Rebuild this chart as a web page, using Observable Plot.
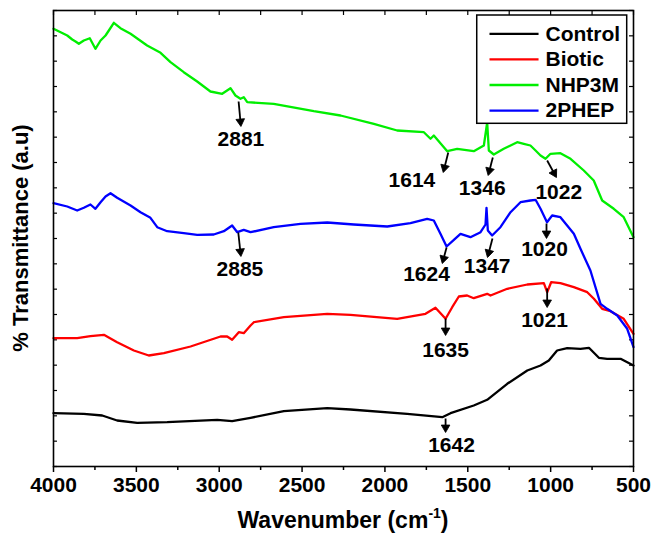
<!DOCTYPE html>
<html>
<head>
<meta charset="utf-8">
<script src="https://cdn.jsdelivr.net/npm/d3@7"></script>
<script src="https://cdn.jsdelivr.net/npm/@observablehq/plot@0.6"></script>
<style>
  body { margin: 0; background: #fff; }
  #wrap { position: relative; width: 652px; height: 537px; font-family: "Liberation Sans", Arial, sans-serif; font-weight: bold; color: #000; }
  #xt { position: absolute; left: 53px; width: 580px; top: 507px; text-align: center; font-size: 23px; line-height: 26px; }
  #xt sup { font-size: 14px; vertical-align: 10px; line-height: 0; }
  #yt { position: absolute; left: -139px; top: 225px; width: 320px; height: 26px; line-height: 26px; text-align: center; font-size: 22px; transform: rotate(-90deg); }
</style>
</head>
<body>
<div id="wrap">
  <div id="chart"></div>
  <div id="xt">Wavenumber (cm<sup>-1</sup>)</div>
  <div id="yt">% Transmittance (a.u)</div>
</div>
<script>
// ---- Data (wavenumber in cm^-1, transmittance in arbitrary units, curves offset as in the figure) ----
const seriesNames = ["Control", "Biotic", "NHP3M", "2PHEP"];
const seriesColors = ["#000000", "#ff0000", "#00ee00", "#0000ff"];

const controlWn = [4000, 3817, 3706, 3616, 3495, 3314, 3012, 2922, 2811, 2610, 2348, 2208, 1866, 1654, 1604, 1464, 1383, 1262, 1141, 1061, 1011, 961, 900, 820, 769, 709, 659, 578, 500];
const controlT  = [53.3, 52.7, 51, 46, 43.7, 44.3, 46.7, 45.3, 48.7, 55.3, 58.3, 57, 52.7, 49.3, 53.3, 61, 66.7, 82.7, 96, 101, 106, 116, 118.3, 117.7, 118.7, 108.7, 107.7, 107.7, 101];

const bioticWn = [4000, 3857, 3777, 3696, 3616, 3515, 3425, 3334, 3173, 2992, 2952, 2922, 2882, 2852, 2811, 2791, 2610, 2348, 2208, 1926, 1755, 1695, 1634, 1594, 1554, 1504, 1464, 1383, 1363, 1262, 1141, 1041, 1021, 997, 941, 860, 779, 739, 689, 639, 559, 500];
const bioticT  = [128.3, 128.3, 130.3, 131.7, 124.3, 116, 111, 113.3, 120, 130, 130, 126.7, 134.3, 133.3, 141, 144.3, 149.3, 152.7, 151.7, 147.7, 152.7, 158.7, 147.7, 159.3, 170, 171, 168.3, 172.7, 171, 177.7, 182, 183.3, 174.3, 184.3, 183.3, 179.3, 174.3, 167.7, 157.7, 155.3, 147.7, 132.7];

const nhp3mWn = [4000, 3917, 3887, 3867, 3847, 3817, 3781, 3747, 3716, 3686, 3666, 3636, 3596, 3535, 3435, 3354, 3294, 3214, 3133, 3053, 2982, 2932, 2902, 2872, 2852, 2831, 2671, 2429, 2268, 2067, 1926, 1765, 1725, 1705, 1624, 1564, 1464, 1403, 1383, 1373, 1343, 1283, 1202, 1162, 1122, 1091, 1061, 1031, 1001, 941, 880, 800, 740, 689, 619, 559, 500];
const nhp3mT  = [437.7, 431, 427, 425, 422.7, 426, 428.3, 417.7, 426, 431, 436, 443.7, 438.3, 432.7, 421, 413.7, 404.3, 394.3, 385, 375, 372.7, 378.3, 371, 367.7, 369.3, 364.3, 362.7, 355.3, 351, 342.7, 336, 334.3, 327.7, 331, 315.3, 317.7, 315.3, 321, 344, 316, 312, 317.7, 324.3, 322.7, 321, 316, 311, 307.7, 312.7, 313.3, 307.7, 296, 286, 266, 257.7, 249.3, 229.3];

const phepWn = [4000, 3917, 3857, 3817, 3777, 3747, 3716, 3686, 3656, 3616, 3535, 3475, 3415, 3374, 3314, 3214, 3133, 3033, 2972, 2922, 2891, 2852, 2811, 2671, 2510, 2348, 2188, 1986, 1846, 1745, 1705, 1665, 1628, 1584, 1544, 1484, 1423, 1393, 1387, 1379, 1353, 1303, 1242, 1182, 1122, 1091, 1061, 1022, 991, 941, 860, 820, 760, 699, 659, 598, 538, 500];
const phepT  = [263.3, 260, 256, 258.7, 262, 257.7, 264.3, 270, 273.3, 268.7, 261, 254.3, 248.7, 239.3, 235.3, 233.3, 231.7, 232, 235.3, 241, 234.3, 236.7, 234.3, 239.3, 242.7, 244, 242, 240, 243.3, 247.7, 246, 232.7, 220, 226.7, 232.7, 229.3, 234.3, 242, 258.7, 236, 231, 239.3, 254.3, 264.3, 266, 266.7, 257.7, 244.3, 251, 249.3, 232.7, 217.7, 196, 162.7, 157.7, 151, 137.7, 119.3];

// Peak annotations: label, arrow start (wn, T), arrow tip (wn, T), label position (wn, T)
const annLabel = ["2881", "2885", "1614", "1346", "1022", "1624", "1347", "1020", "1635", "1021", "1642"];
const annX1 = [2883, 2885, 1618, 1349, 1021, 1628, 1351, 1025, 1634, 1021, 1634];
const annY1 = [365, 234, 314, 309, 306, 219, 228, 243, 148, 178, 48];
const annX2 = [2869, 2869, 1648, 1377, 965, 1654, 1381, 1025, 1634, 1021, 1634];
const annY2 = [340, 210, 294, 291, 289, 203, 209, 228, 131, 159, 34];
const annTx = [2869, 2875, 1837, 1413, 951, 1749, 1383, 1037, 1634, 1037, 1598];
const annTy = [327, 197, 286, 278, 274.3, 192, 200, 217.5, 116, 146, 21];

const xMajor = [4000, 3500, 3000, 2500, 2000, 1500, 1000, 500];
const xMinor = [3750, 3250, 2750, 2250, 1750, 1250, 750];

// ---- Layout ----
const W = 652, H = 537, mL = 53, mR = 19, mT = 10, mB = 71;
const xDomain = [4000, 500], yDomain = [0, 456];
const kx = (xDomain[0] - xDomain[1]) / (W - mL - mR);   // wavenumber per pixel
const ky = (yDomain[1] - yDomain[0]) / (H - mT - mB);   // units per pixel

// ---- Build tables ----
const wnArrays = [controlWn, bioticWn, nhp3mWn, phepWn];
const tArrays = [controlT, bioticT, nhp3mT, phepT];
const rows = [];
seriesNames.forEach((name, i) => {
  wnArrays[i].forEach((wn, j) => rows.push({series: name, wn, t: tArrays[i][j]}));
});

// arrows with filled triangular heads
const headR = 3.2;
const tipDist = 2 * Math.sqrt(headR * headR * Math.PI / (3 * Math.sqrt(3)));
const annots = annLabel.map((label, i) => {
  const dpx = -(annX2[i] - annX1[i]) / kx;
  const dpy = -(annY2[i] - annY1[i]) / ky;
  const len = Math.hypot(dpx, dpy);
  const ux = dpx / len, uy = dpy / len;
  const rot = Math.atan2(ux, -uy) * 180 / Math.PI;
  const back = (d) => ({x: annX2[i] + ux * d * kx, y: annY2[i] + uy * d * ky});
  const c = back(tipDist);
  const e = back(tipDist * 1.2);
  return {label, x1: annX1[i], y1: annY1[i], xe: e.x, ye: e.y, hx: c.x, hy: c.y, rot, tx: annTx[i], ty: annTy[i]};
});

const yTicks = d3.range(0, 19).map(i => i * 456 / 18);

// legend placement (in scale units)
const lgX1 = 1443, lgX2 = 538, lgY1 = 451, lgY2 = 342.7;
const legendRows = seriesNames.map((name, i) => ({name, color: seriesColors[i], y: 432.7 - i * 25.6}));

const font = "'Liberation Sans', Arial, sans-serif";

const chart = Plot.plot({
  width: W,
  height: H,
  marginLeft: mL,
  marginRight: mR,
  marginTop: mT,
  marginBottom: mB,
  x: {domain: xDomain},
  y: {domain: yDomain},
  color: {domain: seriesNames, range: seriesColors},
  style: {fontFamily: font, fontWeight: "bold", fontSize: "21px", color: "black", background: "white", overflow: "visible"},
  marks: [
    Plot.axisX({anchor: "bottom", ticks: xMajor, tickSize: 6, tickPadding: 5, tickFormat: d => String(d), label: null, fontSize: 21, fontWeight: "bold", strokeWidth: 1.5}),
    Plot.axisX({anchor: "bottom", ticks: xMinor, tickSize: 4, tickFormat: () => "", label: null, strokeWidth: 1.5}),
    Plot.axisY({anchor: "left", ticks: [], label: null}),
    Plot.ruleX(xMajor.concat(xMinor), {y1: 456, y2: 451, stroke: "black", strokeWidth: 1.2}),
    Plot.ruleY(yTicks, {x1: 4000, x2: 3976, stroke: "black", strokeWidth: 1.2}),
    Plot.ruleY(yTicks, {x1: 500, x2: 524, stroke: "black", strokeWidth: 1.2}),
    Plot.line(rows, {x: "wn", y: "t", z: "series", stroke: "series", strokeWidth: 2.3, curve: "linear"}),
    Plot.link(annots, {x1: "x1", y1: "y1", x2: "xe", y2: "ye", stroke: "black", strokeWidth: 1.8}),
    Plot.dot(annots, {x: "hx", y: "hy", symbol: "triangle", r: headR, rotate: "rot", fill: "black", stroke: "black", strokeWidth: 0.8}),
    Plot.text(annots, {x: "tx", y: "ty", text: "label", fontSize: 21, fontWeight: "bold", lineAnchor: "middle", textAnchor: "middle", fill: "black"}),
    Plot.rect([{}], {x1: lgX1, x2: lgX2, y1: lgY1, y2: lgY2, fill: "white", stroke: "black", strokeWidth: 1.5}),
    Plot.link(legendRows, {x1: 1369, x2: 1073, y1: "y", y2: "y", stroke: "color", strokeWidth: 2.3}),
    Plot.text(legendRows, {x: 1031, y: "y", text: "name", textAnchor: "start", lineAnchor: "middle", fontSize: 21, fontWeight: "bold", fill: "black"}),
    Plot.frame({stroke: "black", strokeWidth: 1.6})
  ]
});
document.getElementById("chart").appendChild(chart);
</script>
</body>
</html>
